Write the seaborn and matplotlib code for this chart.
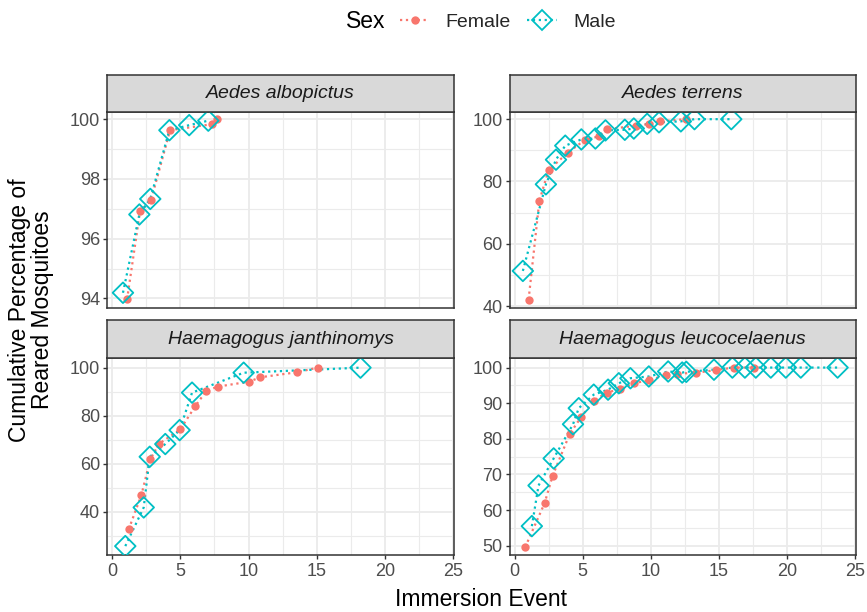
import numpy as np
import pandas as pd
import matplotlib
matplotlib.use("Agg")
import matplotlib.pyplot as plt
from matplotlib.lines import Line2D
from matplotlib.ticker import MultipleLocator, FixedLocator
import seaborn as sns

# ---------------- data ----------------
species = ["Aedes albopictus", "Aedes terrens",
           "Haemagogus janthinomys", "Haemagogus leucocelaenus"]

albopictus_f_x = [1.1, 2.05, 2.85, 4.25, 7.3, 7.7]
albopictus_f_y = [93.97, 96.92, 97.28, 99.63, 99.83, 100.0]
albopictus_m_x = [0.8, 2.0, 2.8, 4.2, 5.65, 7.05]
albopictus_m_y = [94.19, 96.81, 97.33, 99.63, 99.8, 99.95]

terrens_f_x = [1.03, 1.82, 2.5, 3.92, 5.15, 6.18, 6.79, 8.92, 9.9, 10.64, 12.55]
terrens_f_y = [42.1, 73.8, 83.7, 89.3, 93.3, 94.5, 96.8, 97.9, 98.5, 99.3, 100.0]
terrens_m_x = [0.61, 2.3, 3.04, 3.72, 4.9, 5.93, 6.67, 8.09, 8.75, 9.73, 10.6, 12.2, 13.2, 15.9]
terrens_m_y = [51.3, 79.1, 87.0, 91.5, 93.5, 93.8, 96.4, 96.6, 97.0, 98.5, 99.0, 99.3, 100.0, 100.0]

janthinomys_f_x = [1.22, 2.15, 2.8, 3.42, 5.0, 6.1, 6.9, 7.74, 10.06, 10.86, 13.55, 15.06]
janthinomys_f_y = [32.7, 47.0, 61.8, 68.2, 74.3, 84.0, 90.3, 92.1, 94.2, 96.0, 98.1, 100.0]
janthinomys_m_x = [0.97, 2.32, 2.76, 3.9, 4.95, 5.86, 9.64, 18.2]
janthinomys_m_y = [25.7, 41.8, 62.9, 68.2, 74.0, 89.6, 97.9, 100.0]

leucocelaenus_f_x = [0.78, 2.2, 2.8, 4.04, 4.9, 5.81, 6.79, 7.77, 8.8, 9.85,
                     11.08, 11.93, 13.28, 14.75, 16.1, 17.57]
leucocelaenus_f_y = [49.6, 61.9, 69.7, 81.3, 86.2, 90.7, 93.0, 94.0, 95.6, 96.5,
                     97.8, 98.3, 98.5, 99.3, 100.0, 100.0]
leucocelaenus_m_x = [1.27, 1.76, 2.87, 4.29, 4.71, 5.81, 6.86, 7.65, 8.5, 9.85,
                     11.27, 12.3, 12.6, 14.63, 15.98, 16.9, 17.7, 18.8, 19.9, 21.0, 23.7]
leucocelaenus_m_y = [55.5, 66.9, 74.5, 84.1, 88.6, 92.4, 93.8, 95.6, 97.0, 97.5,
                     98.9, 98.6, 98.8, 99.4, 100.0, 100.0, 100.0, 100.0, 100.0, 100.0, 100.0]

sexes = ["Female", "Male"]
x_ticks = [0, 5, 10, 15, 20, 25]
y_ticks = {
    "Aedes albopictus": [94, 96, 98, 100],
    "Aedes terrens": [40, 60, 80, 100],
    "Haemagogus janthinomys": [40, 60, 80, 100],
    "Haemagogus leucocelaenus": [50, 60, 70, 80, 90, 100],
}

series = {
    "Aedes albopictus": (albopictus_f_x, albopictus_f_y, albopictus_m_x, albopictus_m_y),
    "Aedes terrens": (terrens_f_x, terrens_f_y, terrens_m_x, terrens_m_y),
    "Haemagogus janthinomys": (janthinomys_f_x, janthinomys_f_y, janthinomys_m_x, janthinomys_m_y),
    "Haemagogus leucocelaenus": (leucocelaenus_f_x, leucocelaenus_f_y,
                                 leucocelaenus_m_x, leucocelaenus_m_y),
}

rows = []
for sp, (fx, fy, mx, my) in series.items():
    for x, y in zip(fx, fy):
        rows.append({"Species": sp, "Sex": "Female", "Event": x, "Pct": y})
    for x, y in zip(mx, my):
        rows.append({"Species": sp, "Sex": "Male", "Event": x, "Pct": y})
df = pd.DataFrame(rows)

# ---------------- style ----------------
sns.set_theme(style="white")
plt.rcParams["font.family"] = ["Liberation Sans", "DejaVu Sans"]

F_COL = "#F8766D"
M_COL = "#00BFC4"
palette = {"Female": F_COL, "Male": M_COL}
BORDER = "#333333"
GRID = "#EBEBEB"
TICKC = "#4D4D4D"

W, H = 867, 612
fig = plt.figure(figsize=(W / 100, H / 100), dpi=100)

def fx_(px):
    return px / W

def fy_(py):
    return 1 - py / H

# pixel boxes (left, right, top, bottom, strip top)
panels = {
    "Aedes albopictus": (107, 454, 111.7, 308, 75),
    "Aedes terrens": (509.5, 856, 111.7, 308, 75),
    "Haemagogus janthinomys": (107, 454, 358.3, 555, 320),
    "Haemagogus leucocelaenus": (509.5, 856, 358.3, 555, 320),
}
ylims = {
    "Aedes albopictus": (93.68, 100.25),
    "Aedes terrens": (39.4, 102.4),
    "Haemagogus janthinomys": (22.0, 103.9),
    "Haemagogus leucocelaenus": (47.4, 102.6),
}
XLIM = (-0.37, 25.05)

for sp in species:
    l, r, t, b, st = panels[sp]
    ax = fig.add_axes([fx_(l), fy_(b), (r - l) / W, (b - t) / H])
    sub = df[df["Species"] == sp]
    for sex in sexes:
        d = sub[sub["Sex"] == sex]
        sns.lineplot(data=d, x="Event", y="Pct", color=palette[sex], linestyle=":",
                     linewidth=1.6, ax=ax, sort=True, legend=False, zorder=2)
    dF = sub[sub["Sex"] == "Female"]
    dM = sub[sub["Sex"] == "Male"]
    sns.scatterplot(data=dF, x="Event", y="Pct", color=F_COL, marker="o", s=36,
                    linewidth=0, ax=ax, legend=False, zorder=3)
    sns.scatterplot(data=dM, x="Event", y="Pct", marker="D", s=110,
                    facecolor="none", edgecolor=M_COL, linewidth=1.3,
                    ax=ax, legend=False, zorder=4)
    ax.set_xlim(*XLIM)
    ax.set_ylim(*ylims[sp])
    ax.xaxis.set_major_locator(FixedLocator(x_ticks))
    ax.xaxis.set_minor_locator(MultipleLocator(2.5))
    yt = y_ticks[sp]
    ax.yaxis.set_major_locator(FixedLocator(yt))
    step = yt[1] - yt[0]
    ax.yaxis.set_minor_locator(MultipleLocator(step / 2))
    ax.grid(True, which="major", color=GRID, linewidth=1.3, zorder=0)
    ax.grid(True, which="minor", color=GRID, linewidth=0.8, zorder=0)
    ax.set_axisbelow(True)
    for s in ax.spines.values():
        s.set_color(BORDER)
        s.set_linewidth(1.1)
    ax.set_xlabel("")
    ax.set_ylabel("")
    ax.tick_params(axis="y", which="major", left=True, length=3, width=1.0,
                   color=BORDER, labelsize=13, labelcolor=TICKC, pad=2)
    ax.tick_params(which="minor", length=0)
    bottom_row = sp.startswith("Haemagogus")
    ax.tick_params(axis="x", which="major", bottom=bottom_row, labelbottom=bottom_row,
                   length=3, width=1.0, color=BORDER, labelsize=13,
                   labelcolor=TICKC, pad=3)
    # strip
    sax = fig.add_axes([fx_(l), fy_(t), (r - l) / W, (t - st) / H])
    sax.set_facecolor("#D9D9D9")
    sax.set_xticks([])
    sax.set_yticks([])
    for s in sax.spines.values():
        s.set_color(BORDER)
        s.set_linewidth(1.1)
    sax.text(0.5, 0.5, sp, ha="center", va="center", fontsize=14,
             style="italic", color="#1A1A1A", transform=sax.transAxes)

# axis titles
fig.text(fx_(481), fy_(606), "Immersion Event", ha="center", va="baseline",
         fontsize=16.5, color="black")
fig.text(fx_(31), fy_(310), "Cumulative Percentage of\nReared Mosquitoes",
         ha="center", va="center", rotation=90, fontsize=16.5,
         color="black", multialignment="center", linespacing=1.05)

# legend
fig.text(fx_(346), fy_(22), "Sex", ha="left", va="center", fontsize=16.5, color="black")
handles = [
    Line2D([], [], color=F_COL, linestyle=":", linewidth=1.6, marker="o",
           markersize=6, markeredgewidth=0),
    Line2D([], [], color=M_COL, linestyle=":", linewidth=1.6, marker="D",
           markersize=10, markerfacecolor="none", markeredgecolor=M_COL,
           markeredgewidth=1.3),
]
fig.legend(handles, sexes, loc="center left", bbox_to_anchor=(fx_(400), fy_(22)),
           ncol=2, frameon=False, fontsize=14, handlelength=1.5,
           handletextpad=0.85, columnspacing=0.85, borderpad=0, borderaxespad=0)

fig.savefig("out.png", dpi=100)
